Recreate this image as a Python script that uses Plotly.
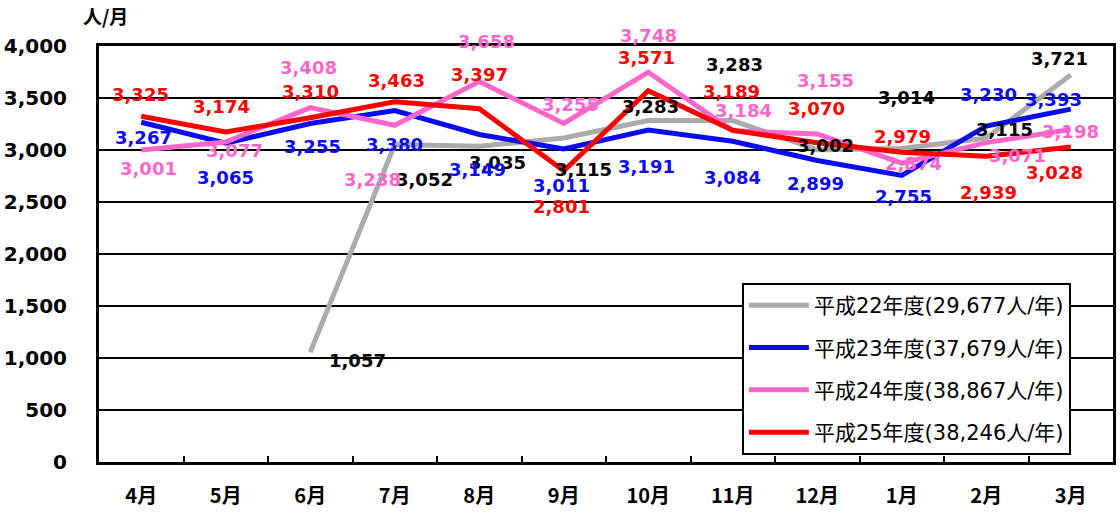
import plotly.graph_objects as go

# | data section |
months = ["4月", "5月", "6月", "7月", "8月", "9月", "10月", "11月", "12月", "1月", "2月", "3月"]

h22 = [None, None, 1057, 3052, 3035, 3115, 3283, 3283, 3002, 3014, 3115, 3721]
h23 = [3267, 3065, 3255, 3380, 3149, 3011, 3191, 3084, 2899, 2755, 3230, 3393]
h24 = [3001, 3077, 3408, 3238, 3658, 3255, 3748, 3184, 3155, 2874, 3071, 3198]
h25 = [3325, 3174, 3310, 3463, 3397, 2801, 3571, 3189, 3070, 2979, 2939, 3028]

names = [
    "平成22年度(29,677人/年)",
    "平成23年度(37,679人/年)",
    "平成24年度(38,867人/年)",
    "平成25年度(38,246人/年)",
]

# | style section |
line_colors = ["#ABABAB", "#0A0AF5", "#FF66CC", "#FF0000"]
label_colors = ["#000000", "#0A0AF5", "#FF66CC", "#FF0000"]

# label offsets in pixels (dx, dy), dy positive = downwards
offsets = [
    [(0, 0), (0, 0), (47, 8), (30, 35), (18, 16), (20, 31), (2, -14), (2, -56), (8, -4), (5, -51), (18, -9), (-11, -17)],
    [(2, 15), (0, 34), (2, 23), (0, 34), (-2, 35), (-2, 37), (-2, 36), (0, 36), (-2, 23), (2, 21), (2, -32), (-17, -10)],
    [(7, 19), (9, 9), (-2, -40), (-22, 54), (7, -40), (7, -19), (0, -37), (11, -20), (8, -53), (12, 0), (31, 13), (0, 2)],
    [(-1, -22), (-4, -25), (0, -26), (2, -21), (0, -34), (-2, 36), (-2, -33), (-1, -39), (-1, -34), (1, -16), (2, 36), (-16, 25)],
]

LABEL_FONT = "DejaVu Sans"
JP_FONT = "Noto Sans CJK JP"

# | graph section |
fig = go.Figure()

series = [h22, h23, h24, h25]
for i, values in enumerate(series):
    fig.add_trace(
        go.Scatter(
            x=months,
            y=values,
            name=names[i],
            mode="lines",
            line={"color": line_colors[i], "width": 5},
            legendgroup=f"g{i}",
        )
    )

# data labels
for i, values in enumerate(series):
    for j, v in enumerate(values):
        if v is None:
            continue
        dx, dy = offsets[i][j]
        fig.add_annotation(
            x=months[j],
            y=v,
            text=f"{v:,}",
            showarrow=False,
            xshift=dx,
            yshift=-dy,
            font={"family": LABEL_FONT, "size": 18, "color": label_colors[i], "weight": "bold"},
        )

# unit label
fig.add_annotation(
    x=0.006,
    y=1.074,
    xref="paper",
    yref="paper",
    xanchor="center",
    yanchor="middle",
    text="人/月",
    showarrow=False,
    font={"family": JP_FONT, "size": 19, "color": "black", "weight": "bold"},
)

fig.update_xaxes(
    type="category",
    range=[-0.5, 11.5],
    showgrid=False,
    showline=True,
    linecolor="black",
    linewidth=3,
    mirror=True,
    ticks="inside",
    tickson="boundaries",
    ticklen=6,
    tickwidth=2,
    tickcolor="black",
    ticklabelstandoff=14,
    tickfont={"family": JP_FONT, "size": 20, "color": "black", "weight": "bold"},
    fixedrange=True,
)

fig.update_yaxes(
    range=[0, 4000],
    tickvals=[0, 500, 1000, 1500, 2000, 2500, 3000, 3500, 4000],
    tickformat=",d",
    showgrid=True,
    gridcolor="black",
    gridwidth=2,
    zeroline=False,
    showline=True,
    linecolor="black",
    linewidth=3,
    mirror=True,
    ticks="",
    ticklabelstandoff=25,
    tickfont={"family": LABEL_FONT, "size": 20, "color": "black", "weight": "bold"},
    fixedrange=True,
)

fig.update_layout(
    width=1120,
    height=513,
    margin={"l": 97, "r": 4, "t": 46, "b": 47},
    paper_bgcolor="white",
    plot_bgcolor="white",
    showlegend=True,
    legend={
        "x": 0.634,
        "y": 0.43,
        "xanchor": "left",
        "yanchor": "top",
        "bgcolor": "white",
        "bordercolor": "black",
        "borderwidth": 2,
        "font": {"family": "DejaVu Sans, " + JP_FONT, "size": 21, "color": "black"},
        "traceorder": "grouped",
        "tracegroupgap": 12,
        "itemwidth": 60,
    },
)

fig.write_html(
    "out.html",
    config={"displayModeBar": False},
    post_script="document.body.style.margin='0';",
)
